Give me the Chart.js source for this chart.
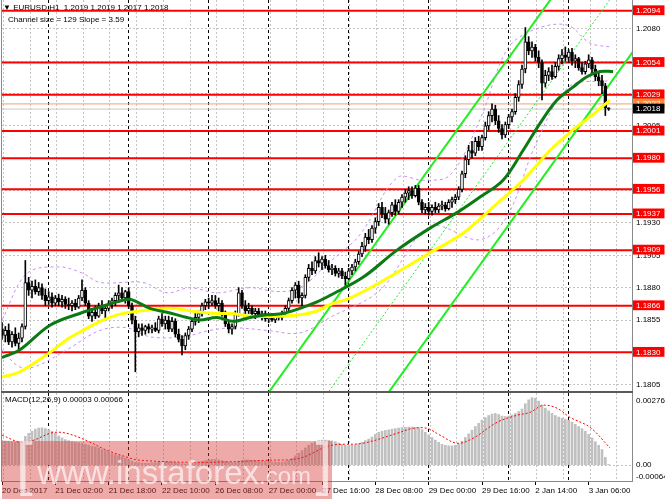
<!DOCTYPE html>
<html>
<head>
<meta charset="utf-8">
<title>EURUSD H1</title>
<script src="https://cdn.jsdelivr.net/npm/chart.js@4.4.1/dist/chart.umd.min.js"></script>
<style>
  html, body { margin:0; padding:0; background:#fff; }
  #wrap { position:relative; width:665px; height:499px; overflow:hidden; background:#fff; font-family:"Liberation Sans", Arial, sans-serif; }
  canvas { position:absolute; left:0; }
  #main { top:0; }
  #macd { top:393px; }
  .lbl { position:absolute; font-size:8px; line-height:10px; color:#000; white-space:pre; font-family:"Liberation Sans", Arial, sans-serif; }
  #wm { position:absolute; left:2px; top:441px; width:330px; height:58px; background:rgba(214,50,50,0.42); }
  #wmText { position:absolute; left:16px; top:428px; height:72px; color:rgba(255,255,255,0.65); white-space:pre; font-family:"Liberation Sans", Arial, sans-serif; line-height:72px; }
</style>
</head>
<body>
<div id="wrap">
  <canvas id="main" width="665" height="393"></canvas>
  <canvas id="macd" width="665" height="106"></canvas>
  <div class="lbl" style="left:3px;top:3px;">▼ EURUSD,H1  1.2019 1.2019 1.2017 1.2018</div>
  <div class="lbl" style="left:8px;top:15px;">Channel size = 129 Slope = 3.59</div>
  <div class="lbl" style="left:5px;top:395px;">MACD(12,26,9) 0.00003 0.00066</div>
  <div id="wm"></div>
  <div id="wmText"><span style="font-size:60px;">[</span> <span style="font-size:33px;">www.instaforex</span><span style="font-size:24px;">.com</span> <span style="font-size:60px;">]</span></div>
</div>
<script>
// ---------- data ----------
const xTickLabels = ['20 Dec 2017','21 Dec 02:00','21 Dec 18:00','22 Dec 10:00','26 Dec 08:00','27 Dec 00:00','27 Dec 16:00','28 Dec 08:00','29 Dec 00:00','29 Dec 16:00','2 Jan 14:00','3 Jan 06:00'];
const xTickBars = [0,16,32,48,64,80,96,112,128,144,160,176];
const daySeparatorBars = [14,38,62,80,104,128,152,170];

const opens = [
1.1848,1.1843,1.1847,1.1838,1.1844,1.1837,1.1841,1.1850,1.1884,1.1878,
1.1881,1.1877,1.1880,1.1874,1.1870,1.1873,1.1868,1.1872,1.1869,1.1871,
1.1867,1.1866,1.1868,1.1865,1.1872,1.1878,1.1868,1.1858,1.1861,1.1858,
1.1866,1.1862,1.1864,1.1868,1.1870,1.1874,1.1876,1.1872,1.1877,1.1866,
1.1855,1.1846,1.1849,1.1847,1.1850,1.1848,1.1849,1.1847,1.1856,1.1852,
1.1855,1.1848,1.1854,1.1844,1.1840,1.1835,1.1843,1.1848,1.1854,1.1857,
1.1860,1.1866,1.1869,1.1868,1.1870,1.1866,1.1868,1.1860,1.1852,1.1848,
1.1850,1.1860,1.1876,1.1866,1.1862,1.1864,1.1860,1.1862,1.1859,1.1860,
1.1856,1.1857,1.1855,1.1858,1.1857,1.1860,1.1864,1.1870,1.1878,1.1882,
1.1872,1.1874,1.1888,1.1895,1.1893,1.1901,1.1899,1.1902,1.1897,1.1894,
1.1895,1.1891,1.1893,1.1889,1.1887,1.1893,1.1896,1.1900,1.1906,1.1912,
1.1919,1.1917,1.1926,1.1931,1.1942,1.1937,1.1933,1.1938,1.1944,1.1939,
1.1946,1.1950,1.1953,1.1955,1.1951,1.1957,1.1946,1.1940,1.1942,1.1939,
1.1942,1.1940,1.1943,1.1944,1.1941,1.1946,1.1948,1.1950,1.1956,1.1968,
1.1979,1.1986,1.1984,1.1993,1.1989,1.1996,1.2005,1.2013,1.2018,1.2009,
1.2003,1.1998,1.2006,1.2012,1.2016,1.2027,1.2037,1.2049,1.2070,1.2063,
1.2066,1.2058,1.2054,1.2038,1.2044,1.2047,1.2043,1.2051,1.2057,1.2060,
1.2058,1.2062,1.2055,1.2057,1.2050,1.2047,1.2053,1.2056,1.2049,1.2043,
1.2040,1.2036,1.2019];
const highs = [
1.1853,1.1850,1.1852,1.1846,1.1849,1.1845,1.1852,1.1901,1.1888,1.1885,
1.1886,1.1884,1.1883,1.1879,1.1877,1.1876,1.1874,1.1875,1.1874,1.1873,
1.1872,1.1870,1.1871,1.1874,1.1886,1.1880,1.1870,1.1864,1.1866,1.1868,
1.1870,1.1866,1.1870,1.1872,1.1876,1.1882,1.1880,1.1878,1.1880,1.1868,
1.1858,1.1852,1.1852,1.1851,1.1852,1.1851,1.1853,1.1858,1.1860,1.1858,
1.1858,1.1857,1.1856,1.1848,1.1843,1.1845,1.1850,1.1856,1.1860,1.1862,
1.1868,1.1871,1.1872,1.1874,1.1874,1.1872,1.1870,1.1862,1.1855,1.1852,
1.1862,1.1880,1.1878,1.1870,1.1868,1.1866,1.1864,1.1864,1.1862,1.1862,
1.1860,1.1860,1.1859,1.1860,1.1862,1.1866,1.1872,1.1880,1.1884,1.1885,
1.1876,1.1890,1.1898,1.1900,1.1904,1.1907,1.1904,1.1905,1.1901,1.1898,
1.1897,1.1895,1.1895,1.1892,1.1895,1.1898,1.1902,1.1908,1.1915,1.1922,
1.1925,1.1928,1.1934,1.1945,1.1946,1.1942,1.1940,1.1946,1.1948,1.1948,
1.1952,1.1956,1.1958,1.1958,1.1959,1.1959,1.1948,1.1945,1.1946,1.1944,
1.1946,1.1945,1.1947,1.1946,1.1948,1.1950,1.1952,1.1958,1.1970,1.1982,
1.1990,1.1993,1.1996,1.1997,1.1998,1.2008,1.2016,1.2022,1.2021,1.2013,
1.2006,1.2008,1.2014,1.2018,1.2030,1.2040,1.2052,1.2081,1.2074,1.2070,
1.2068,1.2063,1.2056,1.2048,1.2050,1.2052,1.2054,1.2060,1.2064,1.2066,
1.2064,1.2065,1.2060,1.2058,1.2054,1.2055,1.2060,1.2058,1.2052,1.2046,
1.2044,1.2038,1.2019];
const lows = [
1.1840,1.1838,1.1836,1.1834,1.1835,1.1832,1.1838,1.1848,1.1874,1.1872,
1.1875,1.1874,1.1871,1.1866,1.1867,1.1865,1.1866,1.1866,1.1865,1.1864,
1.1863,1.1862,1.1863,1.1864,1.1870,1.1866,1.1856,1.1854,1.1856,1.1857,
1.1860,1.1856,1.1862,1.1864,1.1866,1.1870,1.1870,1.1868,1.1864,1.1852,
1.1815,1.1842,1.1843,1.1844,1.1845,1.1845,1.1846,1.1845,1.1850,1.1848,
1.1846,1.1846,1.1842,1.1838,1.1828,1.1832,1.1840,1.1846,1.1851,1.1853,
1.1858,1.1863,1.1864,1.1866,1.1864,1.1862,1.1858,1.1850,1.1845,1.1844,
1.1848,1.1858,1.1864,1.1860,1.1860,1.1858,1.1856,1.1857,1.1855,1.1854,
1.1853,1.1854,1.1853,1.1855,1.1855,1.1858,1.1862,1.1868,1.1872,1.1868,
1.1866,1.1872,1.1885,1.1890,1.1891,1.1896,1.1894,1.1895,1.1892,1.1890,
1.1889,1.1888,1.1887,1.1882,1.1886,1.1890,1.1893,1.1898,1.1904,1.1908,
1.1914,1.1915,1.1922,1.1928,1.1934,1.1930,1.1929,1.1935,1.1936,1.1937,
1.1942,1.1946,1.1948,1.1949,1.1950,1.1944,1.1938,1.1937,1.1936,1.1936,
1.1938,1.1938,1.1940,1.1939,1.1940,1.1942,1.1945,1.1948,1.1954,1.1965,
1.1975,1.1980,1.1982,1.1986,1.1986,1.1994,1.2002,1.2008,1.2006,1.2000,
1.1995,1.1996,1.2003,1.2008,1.2014,1.2024,1.2034,1.2046,1.2060,1.2058,
1.2055,1.2050,1.2025,1.2035,1.2040,1.2041,1.2042,1.2048,1.2053,1.2055,
1.2054,1.2052,1.2050,1.2048,1.2045,1.2045,1.2050,1.2046,1.2040,1.2036,
1.2030,1.2013,1.2017];
const closes = [
1.1843,1.1847,1.1838,1.1844,1.1837,1.1841,1.1850,1.1884,1.1878,1.1881,
1.1877,1.1880,1.1874,1.1870,1.1873,1.1868,1.1872,1.1869,1.1871,1.1867,
1.1866,1.1868,1.1865,1.1872,1.1878,1.1868,1.1858,1.1861,1.1858,1.1866,
1.1862,1.1864,1.1868,1.1870,1.1874,1.1876,1.1872,1.1877,1.1866,1.1855,
1.1846,1.1849,1.1847,1.1850,1.1848,1.1849,1.1847,1.1856,1.1852,1.1855,
1.1848,1.1854,1.1844,1.1840,1.1835,1.1843,1.1848,1.1854,1.1857,1.1860,
1.1866,1.1869,1.1868,1.1870,1.1866,1.1868,1.1860,1.1852,1.1848,1.1850,
1.1860,1.1876,1.1866,1.1862,1.1864,1.1860,1.1862,1.1859,1.1860,1.1856,
1.1857,1.1855,1.1858,1.1857,1.1860,1.1864,1.1870,1.1878,1.1882,1.1872,
1.1874,1.1888,1.1895,1.1893,1.1901,1.1899,1.1902,1.1897,1.1894,1.1895,
1.1891,1.1893,1.1889,1.1887,1.1893,1.1896,1.1900,1.1906,1.1912,1.1919,
1.1917,1.1926,1.1931,1.1942,1.1937,1.1933,1.1938,1.1944,1.1939,1.1946,
1.1950,1.1953,1.1955,1.1951,1.1957,1.1946,1.1940,1.1942,1.1939,1.1942,
1.1940,1.1943,1.1944,1.1941,1.1946,1.1948,1.1950,1.1956,1.1968,1.1979,
1.1986,1.1984,1.1993,1.1989,1.1996,1.2005,1.2013,1.2018,1.2009,1.2003,
1.1998,1.2006,1.2012,1.2016,1.2027,1.2037,1.2049,1.2070,1.2063,1.2066,
1.2058,1.2054,1.2038,1.2044,1.2047,1.2043,1.2051,1.2057,1.2060,1.2058,
1.2062,1.2055,1.2057,1.2050,1.2047,1.2053,1.2056,1.2049,1.2043,1.2040,
1.2036,1.2019,1.2018];

// moving averages (bar index, price)
const maGreenBars = [0,5.4,14.4,24.3,29.4,34.5,38.4,44.4,49.5,55.5,59.4,64.5,69.3,74.4,79.5,84.3,89.4,94.5,98.4,108.3,118.5,128.4,136.5,143.4,150.3,156.3,161.4,166.5,171.3,175.5,179.4,183.3];
const maGreen = [1.1826,1.1832,1.1851,1.1861,1.1865,1.1869,1.1871,1.1864,1.1861,1.1857,1.1855,1.1857,1.1854,1.1857,1.1859,1.1860,1.1864,1.1869,1.1874,1.1888,1.1909,1.1926,1.1938,1.1950,1.1963,1.1986,1.2007,1.2025,1.2035,1.2043,1.2047,1.2047];
const maYellowBars = [0,5.4,14.4,19.5,24.3,29.4,34.5,38.4,44.4,49.5,54.3,59.4,64.5,69.3,74.4,84.3,89.4,94.5,98.4,104.4,113.4,128.4,138.3,148.5,156.3,164.4,171.3,176.4,182.4];
const maYellow = [1.1811,1.1815,1.1830,1.1840,1.1847,1.1854,1.1859,1.1861,1.1863,1.1864,1.1863,1.1861,1.1860,1.1860,1.1858,1.1858,1.1859,1.1862,1.1867,1.1872,1.1884,1.1907,1.1922,1.1945,1.1963,1.1986,1.2002,1.2012,1.2025];
const bandUpperBars = [0,7.5,17.4,24.3,29.4,42.3,49.5,56.4,64.5,74.4,82.5,89.4,98.4,107.4,118.5,126.3,134.4,143.4,151.5,159.3,169.5,176.4,182.4];
const bandUpper = [1.1855,1.1891,1.1896,1.1891,1.1884,1.1884,1.1876,1.1880,1.1876,1.1880,1.1877,1.1880,1.1900,1.1921,1.1965,1.1963,1.1967,1.2010,1.2064,1.2079,1.2083,1.2069,1.2066];
const bandLowerBars = [0,5.1,9.9,19.5,29.4,37.5,44.4,54.3,62.4,69.3,79.5,89.4,98.4,113.4,128.4,143.4,151.5,160,170,182.4];
const bandLower = [1.1832,1.1819,1.1819,1.1832,1.1847,1.1849,1.1842,1.1842,1.1847,1.1849,1.1847,1.1845,1.1857,1.1878,1.1927,1.1917,1.1935,1.1990,1.2035,1.2040];

// regression channel (bar index, price) end points
const channelBars = [75, 190];
const channelUpper = [1.1781, 1.2194];
const channelMid = [1.1717, 1.2130];
const channelLower = [1.1652, 1.2065];

// horizontal levels and prices on the right scale
const levels = [1.2094,1.2054,1.2029,1.2001,1.1980,1.1956,1.1937,1.1909,1.1866,1.1830];
const askPrice = 1.2022;
const lastPrice = 1.2018;
const gridPrices = [1.1805,1.1830,1.1855,1.1880,1.1905,1.1930,1.1955,1.1980,1.2005,1.2030,1.2055,1.2080];

// MACD(12,26,9)
const macdHist = [
0.00095,0.00093,0.00092,0.00090,0.00088,0.00088,0.00092,0.00110,0.00122,0.00130,
0.00138,0.00142,0.00143,0.00140,0.00136,0.00130,0.00122,0.00112,0.00105,0.00098,
0.00094,0.00090,0.00088,0.00086,0.00084,0.00080,0.00076,0.00072,0.00070,0.00066,
0.00060,0.00056,0.00050,0.00044,0.00040,0.00036,0.00032,0.00028,0.00022,0.00016,
0.00010,0.00010,0.00009,0.00008,0.00008,0.00009,0.00010,0.00012,0.00013,0.00014,
0.00013,0.00012,0.00010,0.00008,0.00006,0.00005,0.00006,0.00008,0.00010,0.00012,
0.00015,0.00018,0.00020,0.00022,0.00022,0.00020,0.00018,0.00015,0.00012,0.00010,
0.00010,0.00014,0.00018,0.00020,0.00020,0.00019,0.00018,0.00017,0.00016,0.00015,
0.00014,0.00013,0.00013,0.00012,0.00012,0.00014,0.00018,0.00026,0.00036,0.00046,
0.00056,0.00066,0.00076,0.00084,0.00090,0.00094,0.00096,0.00096,0.00095,0.00093,
0.00090,0.00085,0.00080,0.00076,0.00075,0.00076,0.00078,0.00082,0.00088,0.00094,
0.00100,0.00108,0.00118,0.00126,0.00130,0.00133,0.00135,0.00138,0.00140,0.00142,
0.00144,0.00145,0.00146,0.00146,0.00145,0.00143,0.00136,0.00126,0.00116,0.00106,
0.00096,0.00088,0.00080,0.00076,0.00074,0.00074,0.00076,0.00082,0.00092,0.00106,
0.00120,0.00134,0.00148,0.00160,0.00172,0.00182,0.00190,0.00196,0.00198,0.00194,
0.00188,0.00186,0.00188,0.00192,0.00198,0.00205,0.00215,0.00235,0.00250,0.00258,
0.00256,0.00245,0.00230,0.00218,0.00208,0.00198,0.00190,0.00184,0.00180,0.00176,
0.00172,0.00165,0.00156,0.00148,0.00140,0.00130,0.00118,0.00104,0.00090,0.00076,
0.00060,0.00030,0.00003];
const signalBars = [0,5.4,9.3,14.4,17.4,21.3,26.4,31.5,37.5,41.4,59.4,79.5,89.4,98.4,108.3,118.5,123.3,127.5,131.4,136.5,141.3,148.5,154.5,158.4,162.3,166.5,170.4,176.4,182.4];
const signal = [0.00115,0.00088,0.00095,0.00122,0.00126,0.00115,0.00088,0.00057,0.00031,0.00019,0.00011,0.00019,0.00027,0.00075,0.00084,0.00122,0.00141,0.00141,0.00115,0.00084,0.00103,0.00164,0.00191,0.00202,0.00229,0.00218,0.00183,0.00145,0.00066];
const macdTickValues = [0.00248, 0, -0.00046];
const macdTickLabels = ['0.00276', '0.00', '-0.00064'];

// ---------- view ----------
const X_MIN = -0.3, X_MAX = 189.0;
const Y_MIN = 1.17986, Y_MAX = 1.21023;
const M_MIN = -0.00064, M_MAX = 0.00276;
const FONT = { family: 'Liberation Sans', size: 8, lineHeight: 1.1 };

Chart.defaults.font.family = 'Liberation Sans';
Chart.defaults.animation = false;

const framePlugin = {
  id: 'frame',
  afterDraw(chart, args, opts) {
    const { ctx, chartArea: a } = chart;
    ctx.save();
    ctx.strokeStyle = '#8a8a8a';
    ctx.lineWidth = 1;
    ctx.beginPath();
    ctx.moveTo(a.left + 0.5, a.top); ctx.lineTo(a.left + 0.5, a.bottom);
    ctx.moveTo(a.right + 0.5, a.top); ctx.lineTo(a.right + 0.5, a.bottom);
    ctx.stroke();
    ctx.strokeStyle = opts.bottomColor || '#8a8a8a';
    ctx.lineWidth = opts.bottomWidth || 1;
    ctx.beginPath();
    const yb = a.bottom - (opts.bottomWidth || 1) / 2;
    ctx.moveTo(a.left, yb); ctx.lineTo(a.right + 1, yb);
    ctx.stroke();
    ctx.restore();
  }
};

function hiddenGridAxis(values, color, dash) {
  return {
    type: 'linear', min: X_MIN, max: X_MAX, position: 'bottom', offset: false,
    afterBuildTicks: s => { s.ticks = values().map(v => ({ value: v })); },
    afterFit: s => { s.height = 0; s.paddingLeft = 0; s.paddingRight = 0; },
    ticks: { display: false },
    grid: { display: true, drawTicks: false, color: color, lineWidth: 1, offset: false },
    border: { display: false, dash: dash }
  };
}
const greyGridBars = () => { const r = []; for (let b = 0.4; b <= X_MAX; b += 8) r.push(b); return r; };
const sepBars = () => daySeparatorBars.slice();

const line = (xs, ys) => xs.map((x, i) => ({ x: x, y: ys[i] }));

// ---------- main price chart ----------
const nGrid = gridPrices.length, nLev = levels.length;
const yTicks = [...gridPrices, ...levels, askPrice, lastPrice];
const tickKind = i => i < nGrid ? 'grid' : (i < nGrid + nLev ? 'level' : (i === nGrid + nLev ? 'ask' : 'last'));

const levelSets = levels.map(L => ({
  type: 'line', data: [{ x: X_MIN - 5, y: L }, { x: X_MAX + 5, y: L }],
  borderColor: '#ff0000', borderWidth: 2, pointRadius: 0, order: 20
}));

new Chart(document.getElementById('main'), {
  type: 'bar',
  data: {
    datasets: [
      { type: 'line', label: 'MA green', data: line(maGreenBars, maGreen), borderColor: '#0c7a12', borderWidth: 3, pointRadius: 0, tension: 0.35, order: 1 },
      { type: 'line', label: 'MA yellow', data: line(maYellowBars, maYellow), borderColor: '#ffff00', borderWidth: 3, pointRadius: 0, tension: 0.35, order: 2 },
      { type: 'bar', label: 'bodies', data: opens.map((o, i) => ({ x: i, y: [o, closes[i]] })),
        backgroundColor: opens.map((o, i) => closes[i] >= o ? '#ffffff' : '#000000'),
        borderColor: '#000000', borderWidth: 1, borderSkipped: false, barThickness: 3, minBarLength: 1, grouped: false, order: 5 },
      { type: 'bar', label: 'wicks', data: highs.map((h, i) => ({ x: i, y: [lows[i], h] })),
        backgroundColor: '#000000', borderWidth: 0, barThickness: 1, grouped: false, order: 6 },
      { type: 'line', label: 'band up', data: line(bandUpperBars, bandUpper), borderColor: '#c890f0', borderWidth: 1, borderDash: [3, 3], pointRadius: 0, tension: 0.35, order: 8 },
      { type: 'line', label: 'band low', data: line(bandLowerBars, bandLower), borderColor: '#c890f0', borderWidth: 1, borderDash: [3, 3], pointRadius: 0, tension: 0.35, order: 8 },
      { type: 'line', label: 'ch up', data: line(channelBars, channelUpper), borderColor: '#22ee22', borderWidth: 2, pointRadius: 0, order: 10 },
      { type: 'line', label: 'ch mid', data: line(channelBars, channelMid), borderColor: '#22ee22', borderWidth: 1, borderDash: [2, 2], pointRadius: 0, order: 10 },
      { type: 'line', label: 'ch low', data: line(channelBars, channelLower), borderColor: '#22ee22', borderWidth: 2, pointRadius: 0, order: 10 },
      { type: 'line', label: 'ask', data: [{ x: X_MIN - 5, y: askPrice }, { x: X_MAX + 5, y: askPrice }], borderColor: '#f4a070', borderWidth: 1, pointRadius: 0, order: 19 },
      { type: 'line', label: 'last', data: [{ x: X_MIN - 5, y: lastPrice }, { x: X_MAX + 5, y: lastPrice }], borderColor: '#c8c8c8', borderWidth: 1, pointRadius: 0, order: 19 },
      ...levelSets
    ]
  },
  options: {
    responsive: false, devicePixelRatio: 1, animation: false,
    layout: { padding: { left: 1, right: 0, top: 0, bottom: 0 }, autoPadding: false },
    plugins: { legend: { display: false }, tooltip: { enabled: false }, frame: { bottomWidth: 2, bottomColor: '#5a5a5a' } },
    scales: {
      x: hiddenGridAxis(greyGridBars, '#c4c4c4', [2, 2]),
      xs: hiddenGridAxis(sepBars, '#000000', [3, 3]),
      y: {
        type: 'linear', position: 'right', min: Y_MIN, max: Y_MAX,
        afterBuildTicks: s => { s.ticks = yTicks.map(v => ({ value: v })); },
        afterFit: s => { s.width = 33; s.paddingTop = 0; s.paddingBottom = 0; },
        grid: { drawTicks: false, lineWidth: 1, color: c => tickKind(c.index) === 'grid' ? '#c4c4c4' : 'rgba(0,0,0,0)' },
        border: { display: false, dash: [2, 2] },
        ticks: {
          autoSkip: false, padding: 4, crossAlign: 'near', font: FONT,
          color: c => tickKind(c.index) === 'grid' ? '#000000' : '#ffffff',
          showLabelBackdrop: c => tickKind(c.index) !== 'grid',
          backdropColor: c => ({ grid: 'rgba(0,0,0,0)', level: '#ff0000', ask: '#ff8a3c', last: '#000000' })[tickKind(c.index)],
          backdropPadding: { top: 1, bottom: 0, left: 3, right: 4 },
          callback: v => Number(v).toFixed(4)
        }
      }
    }
  },
  plugins: [framePlugin]
});

// ---------- MACD chart ----------
new Chart(document.getElementById('macd'), {
  type: 'bar',
  data: {
    datasets: [
      { type: 'line', label: 'signal', data: line(signalBars, signal), borderColor: '#ff0000', borderWidth: 1, borderDash: [2, 2], pointRadius: 0, tension: 0.35, order: 1 },
      { type: 'bar', label: 'MACD', data: macdHist.map((v, i) => ({ x: i, y: v })), backgroundColor: '#c0c0c0', borderWidth: 0, barThickness: 2, order: 2 }
    ]
  },
  options: {
    responsive: false, devicePixelRatio: 1, animation: false,
    layout: { padding: { left: 1, right: 0, top: 0, bottom: 0 }, autoPadding: false },
    plugins: { legend: { display: false }, tooltip: { enabled: false }, frame: { bottomWidth: 1, bottomColor: '#8a8a8a' } },
    scales: {
      x: {
        type: 'linear', min: X_MIN, max: X_MAX, position: 'bottom', offset: false,
        afterBuildTicks: s => { s.ticks = xTickBars.map(v => ({ value: v })); },
        afterFit: s => { s.height = 17; s.paddingLeft = 0; s.paddingRight = 0; },
        grid: { display: true, color: 'rgba(0,0,0,0)', drawTicks: true, tickLength: 3, tickColor: '#000000', tickWidth: 1, offset: false },
        border: { display: false },
        ticks: { autoSkip: false, maxRotation: 0, minRotation: 0, align: 'start', padding: 1, font: FONT, color: '#000000',
          callback: (v, i) => xTickLabels[i] }
      },
      xg: hiddenGridAxis(greyGridBars, '#c4c4c4', [2, 2]),
      xs: hiddenGridAxis(sepBars, '#000000', [3, 3]),
      y: {
        type: 'linear', position: 'right', min: M_MIN, max: M_MAX,
        afterBuildTicks: s => { s.ticks = macdTickValues.map(v => ({ value: v })); },
        afterFit: s => { s.width = 33; s.paddingTop = 0; s.paddingBottom = 0; },
        grid: { drawTicks: false, color: c => c.index === 1 ? '#c4c4c4' : 'rgba(0,0,0,0)' },
        border: { display: false, dash: [2, 2] },
        ticks: { autoSkip: false, padding: 4, crossAlign: 'near', font: FONT, color: '#000000', callback: (v, i) => macdTickLabels[i] }
      }
    }
  },
  plugins: [framePlugin]
});
</script>
</body>
</html>
